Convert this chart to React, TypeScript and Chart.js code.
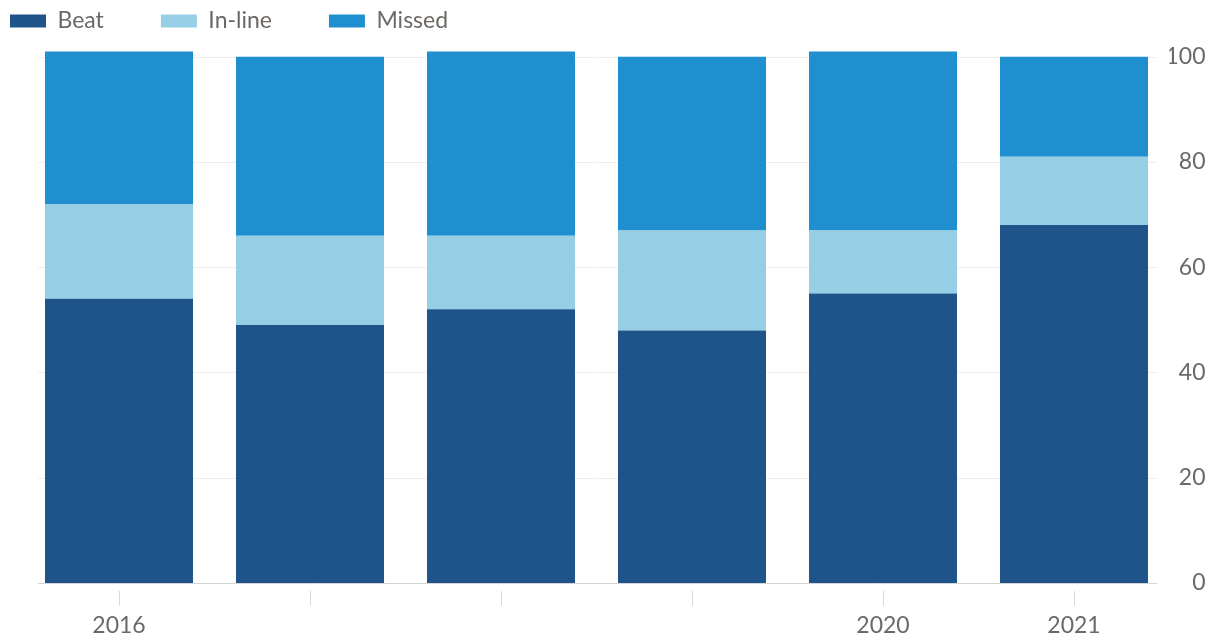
import React, { useEffect, useRef } from 'react';
import { Chart, registerables } from 'chart.js';

Chart.register(...registerables);

const categories = ['2016', '2017', '2018', '2019', '2020', '2021'];
const tickLabels = ['2016', '', '', '', '2020', '2021'];
const beat = [54, 49, 52, 48, 55, 68];
const inLine = [18, 17, 14, 19, 12, 13];
const missed = [29, 34, 35, 33, 34, 19];

const FONT = 'Lato, "Open Sans", sans-serif';
const TEXT = '#6c6865';

const insetGrid = {
  id: 'insetGrid',
  beforeDatasetsDraw(chart: any) {
    const { ctx, chartArea } = chart;
    const y = chart.scales.y;
    ctx.save();
    ctx.lineWidth = 1;
    y.ticks.forEach((t: any) => {
      const py = Math.round(y.getPixelForValue(t.value)) + 0.5;
      ctx.strokeStyle = t.value === 0 ? '#d4d4d4' : '#eeeeee';
      ctx.beginPath();
      ctx.moveTo(chartArea.left + 14.5, py);
      ctx.lineTo(chartArea.right - 12.5, py);
      ctx.stroke();
    });
    ctx.restore();
  },
};

export default function App() {
  const ref = useRef<HTMLCanvasElement>(null);

  useEffect(() => {
    document.body.style.margin = '0';
    const chart = new Chart(ref.current as HTMLCanvasElement, {
      type: 'bar',
      data: {
        labels: categories,
        datasets: [
          { label: 'Beat', data: beat, backgroundColor: '#1e548a', xAxisID: 'x', yAxisID: 'y', clip: false } as any,
          { label: 'In-line', data: inLine, backgroundColor: '#96cfe5', xAxisID: 'x', yAxisID: 'y', clip: false } as any,
          { label: 'Missed', data: missed, backgroundColor: '#1f8fd0', xAxisID: 'x', yAxisID: 'y', clip: false } as any,
        ],
      },
      options: {
        animation: false,
        responsive: true,
        maintainAspectRatio: false,
        layout: { padding: { left: -47, top: -47.5, right: 7.5, bottom: -9 } },
        datasets: { bar: { categoryPercentage: 1, barPercentage: 0.775 } },
        plugins: {
          tooltip: { enabled: false },
          legend: {
            position: 'top',
            align: 'start',
            labels: {
              boxWidth: 36,
              boxHeight: 13,
              padding: 57,
              color: TEXT,
              font: { family: FONT, size: 23 },
            },
          },
        },
        scales: {
          x: {
            type: 'category',
            position: 'bottom',
            stacked: true,
            border: { display: false },
            grid: {
              display: true,
              drawOnChartArea: false,
              drawTicks: true,
              offset: false,
              tickLength: 24,
              tickColor: '#d9d9d9',
              tickBorderDash: [0, 8, 15, 100],
            },
            ticks: {
              autoSkip: false,
              maxRotation: 0,
              padding: 7,
              color: TEXT,
              font: { family: FONT, size: 23, lineHeight: 1 },
              callback: (_v: any, i: number) => tickLabels[i],
            },
          },
          y: {
            type: 'linear',
            position: 'right',
            stacked: true,
            min: 0,
            max: 100,
            border: { display: false },
            grid: { display: false, drawTicks: false },
            ticks: {
              stepSize: 20,
              crossAlign: 'far',
              padding: -12,
              color: TEXT,
              font: { family: FONT, size: 23 },
            },
            afterFit: (s: any) => { s.width = 36; },
          },
          yLeft: {
            type: 'linear',
            position: 'left',
            display: true,
            border: { display: false },
            grid: { display: false, drawTicks: false },
            ticks: { display: false },
            afterFit: (s: any) => { s.width = 70.5; },
          },
          xTop: {
            type: 'category',
            position: 'top',
            display: true,
            border: { display: false },
            grid: { display: false, drawTicks: false },
            ticks: { display: false },
            afterFit: (s: any) => { s.height = 14.2; },
          },
        },
      } as any,
      plugins: [insetGrid],
    });
    return () => chart.destroy();
  }, []);

  return (
    <div style={{ position: 'relative', width: 1213, height: 635 }}>
      <canvas ref={ref} />
    </div>
  );
}
